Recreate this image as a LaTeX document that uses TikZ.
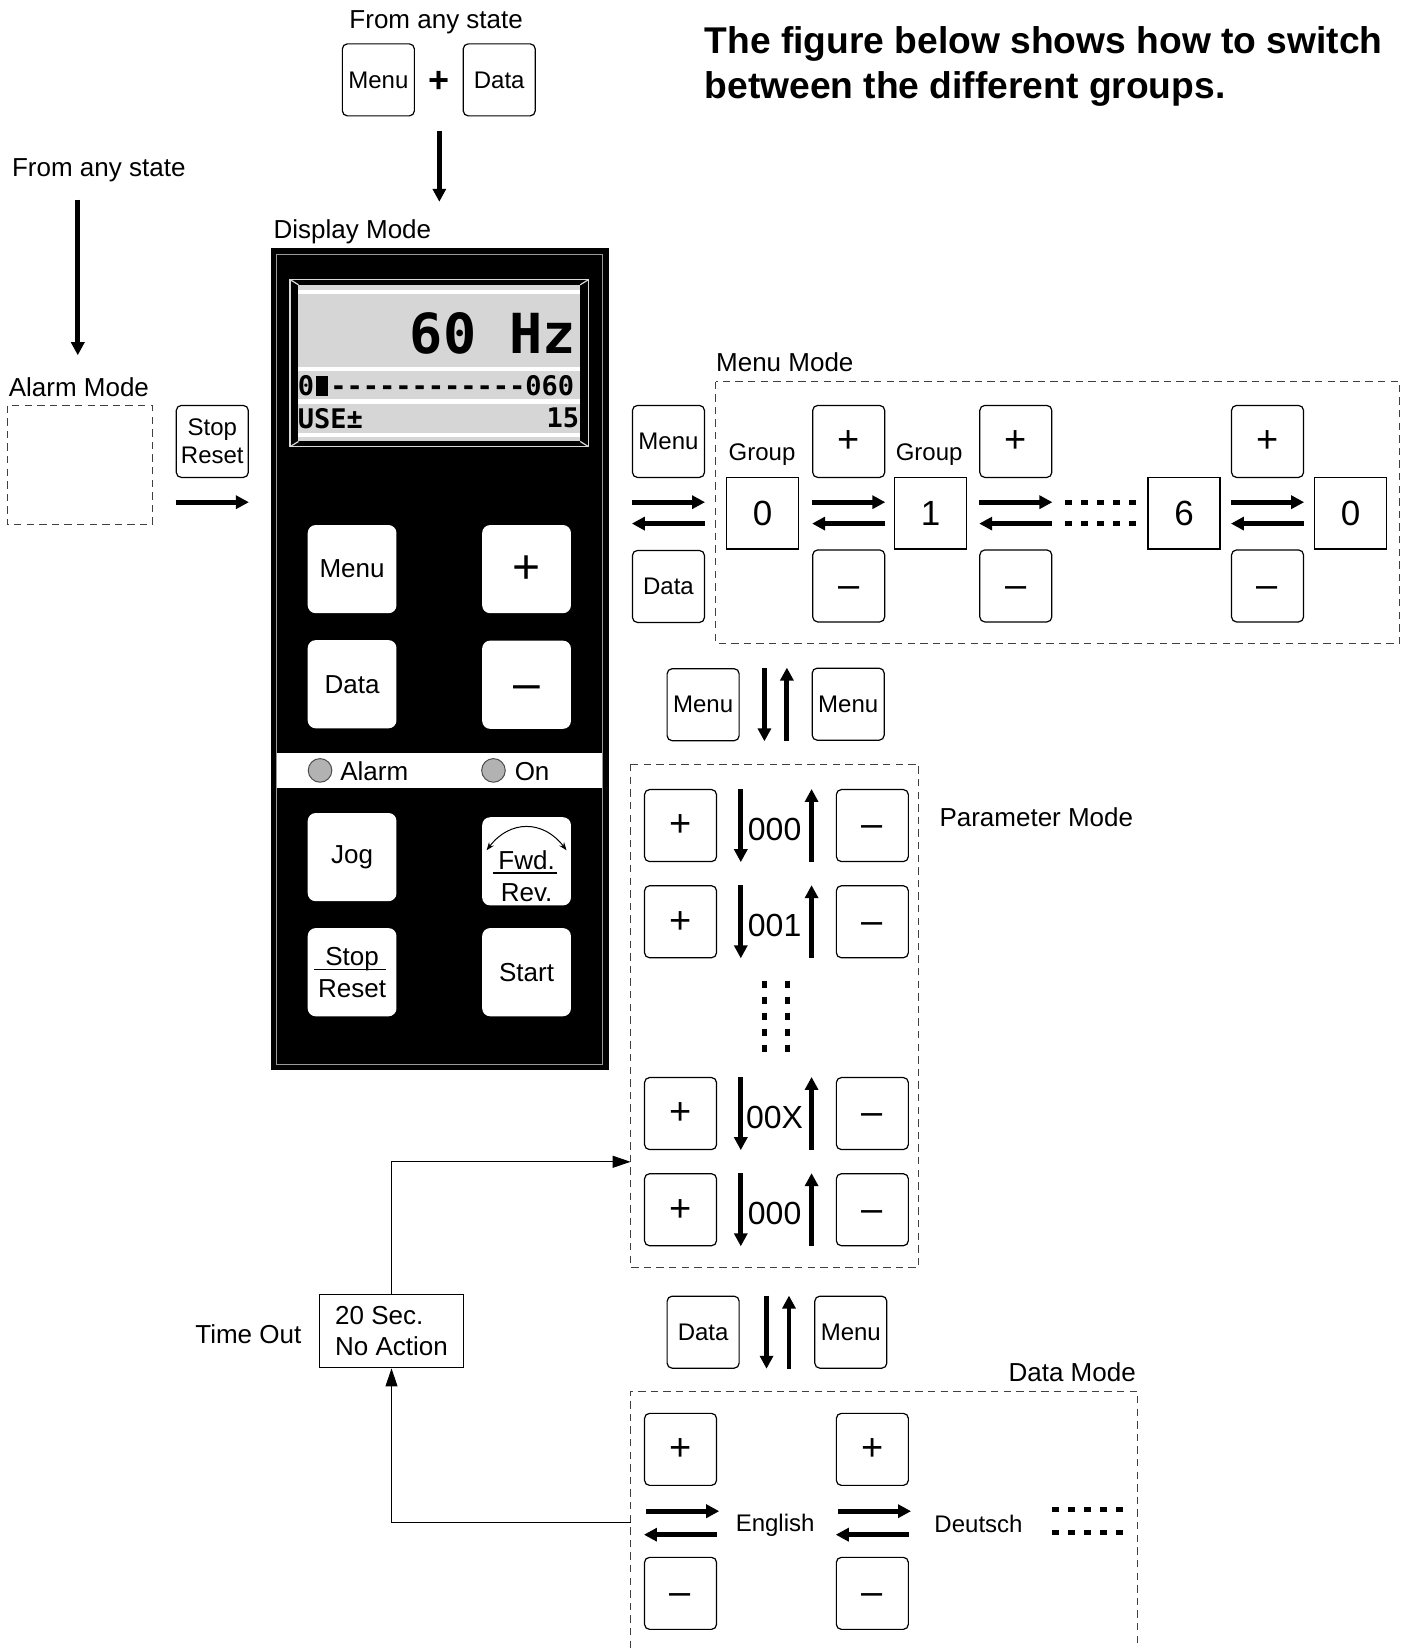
\documentclass[tikz,border=0pt]{standalone}
\usepackage{fontspec}
\setmainfont{Liberation Sans}
\setmonofont{DejaVu Sans Mono}
\usetikzlibrary{arrows.meta,calc,positioning}
\tikzset{key/.style={draw,line width=0.6pt,rounded corners=2.5pt,minimum width=36pt,minimum height=36pt,inner sep=0pt,align=center,font=\fontsize{12}{14.2}\selectfont},
  sign/.style={font=\fontsize{19}{19}\selectfont,text height=11.4pt,text depth=0pt},
  pkey/.style={fill=white,rounded corners=4pt,minimum width=44.4pt,minimum height=44.1pt,inner sep=0pt,align=center,font=\fontsize{13}{16}\selectfont},
  psign/.style={font=\fontsize{24}{24}\selectfont,text height=14.4pt,text depth=0pt},
  grp/.style={draw,line width=0.6pt,minimum width=36pt,minimum height=35.6pt,inner sep=0pt,font=\fontsize{17.5}{17.5}\selectfont},
  lbl/.style={inner sep=0pt,font=\fontsize{13}{15.8}\selectfont,text height=9.4pt,text depth=2.7pt},
  sublbl/.style={inner sep=0pt,font=\fontsize{12}{14}\selectfont,text height=8.7pt,text depth=2.5pt},
  val/.style={inner sep=0pt,font=\fontsize{16}{16}\selectfont},
  lcd/.style={inner sep=0pt,font=\ttfamily\bfseries\fontsize{13.5}{13.5}\selectfont},
  led/.style={circle,draw=black!70,fill=black!30,line width=0.5pt,minimum size=11.8pt,inner sep=0pt},
  mode/.style={draw=black!75,line width=0.5pt,dash pattern=on 3.7pt off 2.6pt},
  arr/.style={line width=2.4pt,-{Triangle[length=6.5pt,width=6.5pt]}},
  dotline/.style={line width=2.4pt,dash pattern=on 3.5pt off 4.5pt},
  tarr/.style={line width=0.5pt,-{Triangle[length=9pt,width=6pt]}}}
\begin{document}
\begin{tikzpicture}[x=0.5255pt,y=-0.5255pt]
\useasboundingbox (0,0) rectangle (1337,1568);
% heading
\node[anchor=north west,inner sep=0pt,align=left,font=\fontsize{18.6}{22.6}\selectfont\bfseries] (title) at (670,25)
  {The figure below shows how to switch\\between the different groups.};
% entry from any state (top)
\node[lbl] (anytop) at (415,20.5){From any state};
\node[key] (topmenu) at (360,76){Menu};
\node[font=\fontsize{18}{18}\selectfont\bfseries] (topplus) at (417.5,78){+};
\node[key] (topdata) at (475,76){Data};
\coordinate (topa) at (418,125); \coordinate (topb) at (418,192);
\draw[arr] (topa)--(topb);
% entry from any state (left) and alarm mode
\node[lbl] (anyleft) at (94,161.5){From any state};
\coordinate (lefta) at (74,190); \coordinate (leftb) at (74,338);
\draw[arr] (lefta)--(leftb);
\node[lbl,anchor=west] (alarmlbl) at (8,370.5){Alarm Mode};
\draw[mode] (7,386) rectangle (145,499.5);
\node[key] (alarmsr) at (202,420){Stop\\Reset};
\draw[arr] ($(alarmsr.south west)+(0,23)$)--($(alarmsr.south east)+(0,23)$);
% display mode panel
\node[lbl,anchor=west] (displbl) at (260,220.5){Display Mode};
\fill (258,236) rectangle (579,1018);
\draw[black!40,line width=0.5pt] (263.5,242) rectangle (573,1013);
\draw[white!85!black,line width=0.6pt] (276,266) rectangle (560,425);
\fill[black!16] (284,271) rectangle (552,420);
\foreach \y/\h in {276/3.7,349/4,380/4.4,411.7/3.8}{\fill[white] (284,\y) rectangle (552,\y+\h);}
\draw[white!85!black,line width=0.6pt] (276,266)--(284,271) (560,266)--(552,271) (276,425)--(284,420) (560,425)--(552,420);
\node[lcd,font=\ttfamily\bfseries\fontsize{27.6}{27.6}\selectfont,anchor=east] (hz) at (548.5,317){60 Hz};
\node[lcd,anchor=west] (bar) at (283,367){0\makebox[0.602em][c]{\rule{0.45em}{0.73em}}------------060};
\node[lcd,anchor=west] (use) at (283,398){USE±};
\node[lcd,anchor=east] (fifteen) at (551.5,398){15};
\node[pkey] (pmenu) at (335,541.5){Menu};
\node[pkey,psign] (pplus) at (501,541.5){+};
\node[pkey] (pdata) at (335,651){Data};
\node[pkey,psign] (pminus) at (501,651.5){\textendash};
\fill[white] (263.5,716.6) rectangle (573,750);
\node[led] (ledalarm) at (304.5,733){};
\node[lbl,right=3.8pt of ledalarm,yshift=-1.5pt] (alarmtxt){Alarm};
\node[led] (ledon) at (469.5,733){};
\node[lbl,right=4.3pt of ledon,yshift=-1.5pt] (ontxt){On};
\node[pkey] (pjog) at (335,815.5){Jog};
\node[pkey] (pfwd) at (501,819.5){};
\node[lbl] (fwdtxt) at (501,821){Fwd.};
\draw[line width=0.6pt] (469,830.7)--(530,830.7);
\node[lbl] (revtxt) at (501,851){Rev.};
\draw[{Stealth[length=4pt,width=3pt]}-{Stealth[length=4pt,width=3pt]},line width=0.5pt]
  ($(pfwd)+(-38,-10.5)$) .. controls ($(pfwd)+(-16,-39.5)$) and ($(pfwd)+(16,-39.5)$) .. ($(pfwd)+(38,-10.5)$);
\node[pkey] (pstop) at (335,925){};
\node[lbl] (stoptxt) at (335,912.5){Stop};
\draw[line width=0.6pt] (299,922.4)--(367,922.4);
\node[lbl] (resettxt) at (335,943){Reset};
\node[pkey] (pstart) at (501,925){Start};
% menu mode
\node[lbl,anchor=west] (menulbl) at (681,347.5){Menu Mode};
\draw[mode] (681,363) rectangle (1332,612);
\node[key] (mmenu) at (636,420){Menu};
\node[key] (mdata) at (636,558){Data};
\draw[arr] ($(mmenu.south west)+(0,23)$)--($(mmenu.south east)+(0,23)$);
\draw[arr] ($(mdata.north east)+(0,-25)$)--($(mdata.north west)+(0,-25)$);
\foreach \g/\x/\d in {g0/725.5/0,g1/885.5/1,g6/1126.5/6,g7/1285/0}{\node[grp] (\g) at (\x,488.5){\d};}
\node[sublbl] (grplbl0) at (725,432){Group};
\node[sublbl] (grplbl1) at (884,432){Group};
\foreach \c/\x in {a/807.5,b/966.5,c/1206}{
  \node[key,sign] (plus\c) at (\x,420){+};
  \node[key,sign] (minus\c) at (\x,557.5){\textendash};
  \draw[arr] ($(plus\c.south west)+(0,23)$)--($(plus\c.south east)+(0,23)$);
  \draw[arr] ($(minus\c.north east)+(0,-24.5)$)--($(minus\c.north west)+(0,-24.5)$);}
\draw[dotline] ($(plusb.south east)+(12,23)$)--++(67.5,0);
\draw[dotline] ($(minusb.north east)+(12,-24.5)$)--++(67.5,0);
% menu <-> parameter
\node[key] (mp1) at (669,670.5){Menu};
\node[key] (mp2) at (807,670){Menu};
\draw[arr] ($(mp1.north east)+(23.5,0)$)--($(mp1.south east)+(23.5,0)$);
\draw[arr] ($(mp2.south west)+(-23.5,0)$)--($(mp2.north west)+(-23.5,0)$);
% parameter mode
\draw[mode] (600,727) rectangle (874,1206);
\node[lbl,anchor=west] (paramlbl) at (893.5,780.2){Parameter Mode};
\foreach \i/\y/\v in {1/785.5/000,2/877/001,3/1059.5/00X,4/1151/000}{
  \node[key,sign] (pp\i) at (647.5,\y){+};
  \node[key,sign] (pn\i) at (830,\y){\textendash};
  \node[val] (pv\i) at (737,\y+3.5){\v};
  \draw[arr] ($(pp\i.north east)+(22.5,0)$)--($(pp\i.south east)+(22.5,0)$);
  \draw[arr] ($(pn\i.south west)+(-23,0)$)--($(pn\i.north west)+(-23,0)$);}
\draw[dotline] (727,933)--(727,1001);
\draw[dotline] (749,933)--(749,1001);
% parameter <-> data
\node[key] (pd1) at (669,1267.5){Data};
\node[key] (pd2) at (809.5,1267.5){Menu};
\draw[arr] ($(pd1.north east)+(25.5,0)$)--($(pd1.south east)+(25.5,0)$);
\draw[arr] ($(pd2.south west)+(-24,0)$)--($(pd2.north west)+(-24,0)$);
% data mode
\node[lbl,anchor=east] (datalbl) at (1081,1307.7){Data Mode};
\draw[mode] (600,1568)--(600,1323.5)--(1082,1323.5)--(1082,1568);
\foreach \c/\x in {e/647.5,f/830}{
  \node[key,sign] (dplus\c) at (\x,1379){+};
  \node[key,sign] (dminus\c) at (\x,1516){\textendash};
  \draw[arr] ($(dplus\c.south west)+(2,24)$)--($(dplus\c.south east)+(2,24)$);
  \draw[arr] ($(dminus\c.north east)+(0,-21)$)--($(dminus\c.north west)+(0,-21)$);}
\node[sublbl] (english) at (737.5,1451){English};
\node[sublbl] (deutsch) at (931,1452){Deutsch};
\draw[dotline] (1001,1436)--++(68,0);
\draw[dotline] (1001,1458)--++(68,0);
% time out
\node[lbl] (tolbl) at (236.3,1272.2){Time Out};
\node[draw,line width=0.6pt,minimum width=72pt,minimum height=36.7pt,align=left,inner sep=0pt,font=\fontsize{13}{15.8}\selectfont] (tobox) at (372.5,1266.5){20 Sec.\\No Action};
\coordinate (pin) at (600,1105.4);
\coordinate (dout) at (600,1448.6);
\draw[tarr] (tobox.north)|-(pin);
\draw[tarr] (dout)-|(tobox.south);
\end{tikzpicture}
\end{document}
